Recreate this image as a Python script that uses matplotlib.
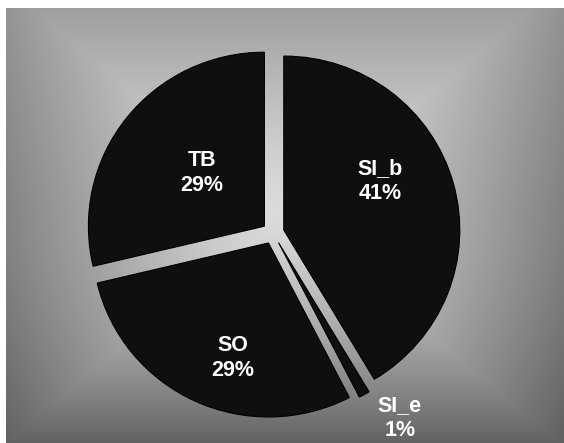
import numpy as np
import matplotlib
matplotlib.use("Agg")
import matplotlib.pyplot as plt

# ---- data ----
categories = ["SI_b", "SI_e", "SO", "TB"]
values = [41.4, 1.0, 28.9, 28.7]

# ---- layout ----
W, H = 564, 443
fig = plt.figure(figsize=(W / 100, H / 100), dpi=100)
fig.patch.set_facecolor("white")

# gradient background (rectangular path gradient, lighter at centre)
bx0, by0 = 6, 8
bg = fig.add_axes([bx0 / W, 0, (W - bx0) / W, (H - by0) / H])
bg.set_axis_off()
nx, ny = W - bx0, H - by0
xs = np.arange(nx)[None, :] + bx0
ys = np.arange(ny)[:, None] + by0
xc, yc = 282.0, 215.0
hw, hh = 285.0, 235.0
t = np.maximum(np.abs(xs - xc) / hw, np.abs(ys - yc) / hh)
t = np.clip(t, 0, 1)
v = 0.86 - 0.36 * t ** 1.25
lower = np.clip((ys - yc) / (H - yc), 0, 1)
v = v - 0.13 * lower ** 1.5
upper = np.clip((yc - ys) / yc, 0, 1)
v = v + 0.07 * upper
v = np.clip(v, 0, 1)
bg.imshow(np.dstack([v, v, v]), aspect="auto", interpolation="bilinear",
          extent=[0, 1, 0, 1], origin="upper")
bg.set_xlim(0, 1)
bg.set_ylim(0, 1)

ax = fig.add_axes([0, 0, 1, 1])
ax.set_facecolor("none")
cx_px, cy_px = 273.1, 233.0
sx, sy = 176.0, 174.0

explode = [0.063] * len(values)
wedges, _ = ax.pie(values, startangle=90, counterclock=False, explode=explode,
                   colors=["#0f0f0f"] * len(values),
                   wedgeprops=dict(edgecolor="#000000", linewidth=0.8))
ax.set_aspect("auto")
ax.set_xlim(-cx_px / sx, (W - cx_px) / sx)
ax.set_ylim(-(H - cy_px) / sy, cy_px / sy)
ax.set_axis_off()

total = sum(values)
label_pos = {"SI_b": (0.608, 0.299), "SI_e": (0.72, -1.063),
             "SO": (-0.227, -0.718), "TB": (-0.403, 0.345)}
for cat, val in zip(categories, values):
    x, y = label_pos[cat]
    ax.text(x, y, f"{cat}\n{round(100 * val / total)}%", ha="center", va="center",
            multialignment="center", color="white", fontsize=15.5,
            fontweight="bold", family=["Liberation Sans", "DejaVu Sans"],
            linespacing=1.2)

fig.savefig("out.png", dpi=100)
